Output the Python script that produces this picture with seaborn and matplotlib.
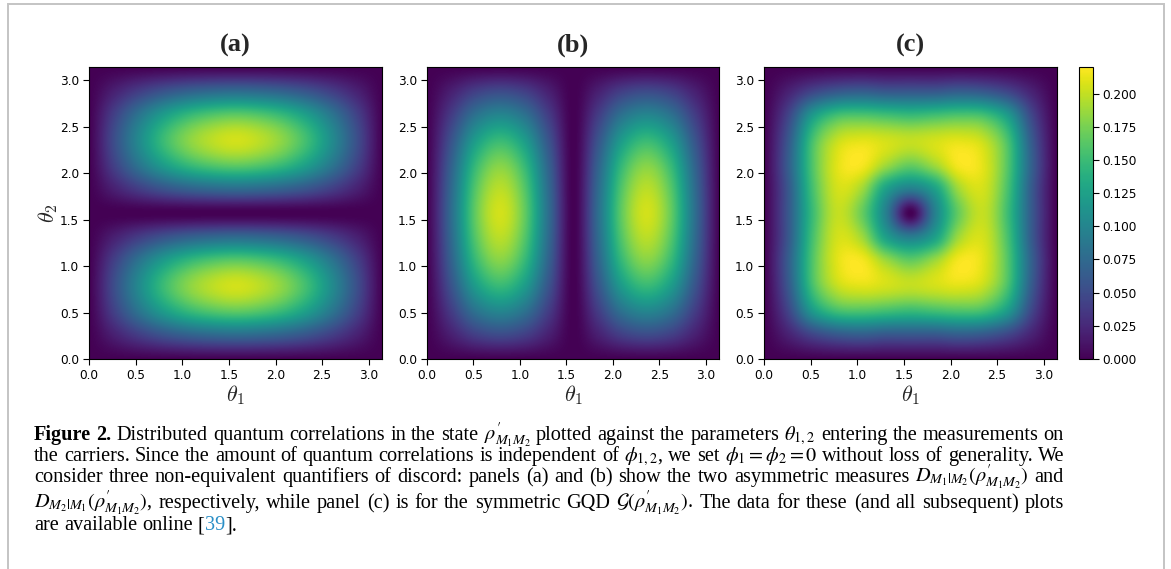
import numpy as np
import matplotlib
matplotlib.use("Agg")
import matplotlib.pyplot as plt
import seaborn as sns
from matplotlib.patches import Rectangle

# ---------------- data ----------------
theta_grid = [0.0, 0.262, 0.524, 0.785, 1.047, 1.309, 1.571,
              1.833, 2.094, 2.356, 2.618, 2.880, 3.142]

z0 = [0.0] * 13
a38 = [0, .019, .039, .056, .068, .075, .078, .075, .068, .056, .039, .019, 0]
a82 = [0, .041, .084, .121, .147, .162, .168, .162, .147, .121, .084, .041, 0]
a100 = [0, .050, .102, .148, .179, .197, .205, .197, .179, .148, .102, .050, 0]
# panel (a): D_{M1|M2}, rows = theta_2, columns = theta_1
discord_a = [z0, a38, a82, a100, a82, a38, z0, a38, a82, a100, a82, a38, z0]

b050 = [0, .019, .041, .050, .041, .019, 0, .019, .041, .050, .041, .019, 0]
b102 = [0, .039, .084, .102, .084, .039, 0, .039, .084, .102, .084, .039, 0]
b148 = [0, .056, .121, .148, .121, .056, 0, .056, .121, .148, .121, .056, 0]
b179 = [0, .068, .147, .179, .147, .068, 0, .068, .147, .179, .147, .068, 0]
b197 = [0, .075, .162, .197, .162, .075, 0, .075, .162, .197, .162, .075, 0]
b205 = [0, .078, .168, .205, .168, .078, 0, .078, .168, .205, .168, .078, 0]
# panel (b): D_{M2|M1}
discord_b = [z0, b050, b102, b148, b179, b197, b205, b197, b179, b148, b102, b050, z0]

c1 = [0, .020, .045, .060, .065, .060, .060, .060, .065, .060, .045, .020, 0]
c2 = [0, .045, .120, .155, .160, .155, .150, .155, .160, .155, .120, .045, 0]
c3 = [0, .060, .155, .200, .210, .205, .200, .205, .210, .200, .155, .060, 0]
c4 = [0, .065, .160, .210, .218, .190, .170, .190, .218, .210, .160, .065, 0]
c5 = [0, .060, .155, .205, .190, .125, .095, .125, .190, .205, .155, .060, 0]
c6 = [0, .060, .150, .200, .170, .095, .000, .095, .170, .200, .150, .060, 0]
# panel (c): symmetric GQD
gqd_c = [z0, c1, c2, c3, c4, c5, c6, c5, c4, c3, c2, c1, z0]

panel_titles = ["(a)", "(b)", "(c)"]
axis_ticks = [0.0, 0.5, 1.0, 1.5, 2.0, 2.5, 3.0]
cbar_ticks = [0.000, 0.025, 0.050, 0.075, 0.100, 0.125, 0.150, 0.175, 0.200]
vmax = 0.22

# ---------------- style ----------------
sns.set_style("ticks")
plt.rcParams["font.family"] = ["DejaVu Sans"]
plt.rcParams["axes.edgecolor"] = "black"
plt.rcParams["xtick.color"] = "black"
plt.rcParams["ytick.color"] = "black"
plt.rcParams["axes.linewidth"] = 0.8
cmap = sns.color_palette("viridis", as_cmap=True)

W, H = 1171, 569
fig = plt.figure(figsize=(W / 100, H / 100), dpi=100)
fig.patch.set_facecolor("white")


def fx(px):
    return px / W


def fy(py):
    return 1 - py / H


# outer frame
fig.patches.append(Rectangle((fx(8), fy(600)), fx(1164) - fx(8), fy(4) - fy(600),
                             transform=fig.transFigure, fill=False,
                             edgecolor="#c4c4c4", linewidth=1.4, zorder=0))

ax_px = [(89, 382), (427, 719), (764, 1057)]
top_px, bot_px = 67, 359
data = [discord_a, discord_b, gqd_c]
step = theta_grid[1] - theta_grid[0]
extent = (theta_grid[0] - step / 2, theta_grid[-1] + step / 2,
          theta_grid[0] - step / 2, theta_grid[-1] + step / 2)

im = None
for k, (x0, x1) in enumerate(ax_px):
    ax = fig.add_axes([fx(x0), fy(bot_px), fx(x1) - fx(x0), fy(top_px) - fy(bot_px)])
    im = ax.imshow(np.array(data[k]), origin="lower", extent=extent, cmap=cmap,
                   vmin=0, vmax=vmax, interpolation="catrom", aspect="auto")
    ax.set_xlim(0, np.pi)
    ax.set_ylim(0, np.pi)
    ax.set_xticks(axis_ticks)
    ax.set_yticks(axis_ticks)
    ax.tick_params(labelsize=8.7, length=4.5, width=0.8, pad=2.5)
    ax.set_xlabel(r"$\theta_1$", fontsize=16, math_fontfamily="cm", labelpad=1)
    if k == 0:
        ax.set_ylabel(r"$\theta_2$", fontsize=16, math_fontfamily="cm", labelpad=0)
    fig.text(fx((x0 + x1) / 2), fy(52), panel_titles[k], ha="center", va="baseline",
             fontsize=19, fontweight="bold", family="Liberation Serif")

cax = fig.add_axes([fx(1079), fy(bot_px), fx(1093) - fx(1079), fy(top_px) - fy(bot_px)])
cb = fig.colorbar(im, cax=cax, ticks=cbar_ticks, format="%.3f")
cb.ax.tick_params(labelsize=8.7, length=4.5, width=0.8, pad=2.5)
cb.outline.set_linewidth(0.8)

# ---------------- caption ----------------
cap_lines = [
    r"**Figure **2. Distributed quantum correlations in the state $\rho^{\prime}_{M_1M_2}$ plotted against the parameters $\theta_{1,2}$ entering the measurements on",
    r"the carriers. Since the amount of quantum correlations is independent of $\phi_{1,2}$, we set $\phi_1=\phi_2=0$ without loss of generality. We",
    r"consider three non-equivalent quantifiers of discord: panels (a) and (b) show the two asymmetric measures $D_{M_1|M_2}(\rho^{\prime}_{M_1M_2})$ and",
    r"$D_{M_2|M_1}(\rho^{\prime}_{M_1M_2})$, respectively, while panel (c) is for the symmetric GQD $\mathcal{G}(\rho^{\prime}_{M_1M_2})$. The data for these (and all subsequent) plots",
]
cap_last = [("are", None), ("available", None), ("online", None), ("[", None),
            ("39", "join"), ("].", "join")]
cap_baselines = [440, 461, 482, 508, 530]
cap_x0, cap_x1 = 34, 1064


def split_tokens(s):
    toks, cur, inmath = [], "", False
    for ch in s:
        if ch == "$":
            inmath = not inmath
        if ch == " " and not inmath:
            if cur:
                toks.append(cur)
            cur = ""
        else:
            cur += ch
    if cur:
        toks.append(cur)
    return toks


renderer = fig.canvas.get_renderer()


def make_text(t, size, bold=False, color="black"):
    return fig.text(0, 0, t, fontsize=size, family="Liberation Serif",
                    math_fontfamily="stix", fontweight="bold" if bold else "normal",
                    color=color, va="baseline", ha="left")


def build_line(line, size):
    arts = []
    for t in split_tokens(line):
        bold = t.startswith("**")
        arts.append(make_text(t[2:] if bold else t, size, bold=bold))
    widths = [a.get_window_extent(renderer).width for a in arts]
    return arts, widths


# choose the largest caption size for which every line keeps a normal word gap
cap_size = 15.0
while cap_size > 10:
    ok = True
    for line in cap_lines:
        arts, widths = build_line(line, cap_size)
        gap = (cap_x1 - cap_x0 - sum(widths)) / (len(arts) - 1)
        for a in arts:
            a.remove()
        if gap < 0.24 * cap_size * 100 / 72:
            ok = False
            break
    if ok:
        break
    cap_size -= 0.1

for line, yb in zip(cap_lines, cap_baselines):
    arts, widths = build_line(line, cap_size)
    gap = (cap_x1 - cap_x0 - sum(widths)) / (len(arts) - 1)
    x = cap_x0
    for a, w in zip(arts, widths):
        a.set_position((fx(x), fy(yb)))
        x += w + gap

t1 = make_text("a a", cap_size)
t2 = make_text("aa", cap_size)
sp = t1.get_window_extent(renderer).width - t2.get_window_extent(renderer).width
t1.remove()
t2.remove()
x = cap_x0
for t, mode in cap_last:
    a = make_text(t, cap_size, color="#2a8fc7" if t == "39" else "black")
    w = a.get_window_extent(renderer).width
    if mode != "join" and x > cap_x0:
        x += sp
    a.set_position((fx(x), fy(cap_baselines[-1])))
    x += w

fig.savefig("out.png", dpi=100, facecolor="white")
